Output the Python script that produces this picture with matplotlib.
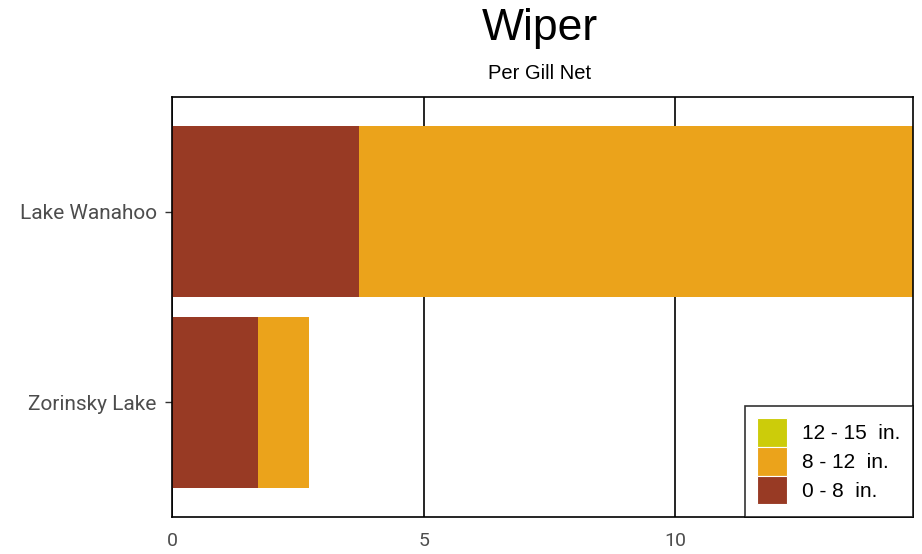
import matplotlib
matplotlib.use("Agg")
import matplotlib.pyplot as plt
from matplotlib.patches import Patch

lakes = ["Zorinsky Lake", "Lake Wanahoo"]
size_classes = ["0 - 8  in.", "8 - 12  in.", "12 - 15  in."]
vals_0_8 = [1.70, 3.72]
vals_8_12 = [1.02, 11.0]
vals_12_15 = [0.0, 0.0]
colors = ["#983A24", "#EBA31B", "#CCCC0A"]

fig = plt.figure(figsize=(9.22, 5.54), dpi=100)
ax = fig.add_axes([0.1866, 0.0668, 0.8034, 0.758])

ypos = list(range(1, len(lakes) + 1))
left = [0.0] * len(lakes)
for vals, c in zip([vals_0_8, vals_8_12, vals_12_15], colors):
    ax.barh(ypos, vals, left=left, height=0.9, color=c, zorder=2)
    left = [l + v for l, v in zip(left, vals)]

ax.set_xlim(0, max(left))
ax.set_ylim(0.4, 2.6)
ax.set_xticks([0, 5, 10])
ax.set_yticks(ypos)
ax.set_yticklabels(lakes)
ax.grid(axis="x", color="black", linewidth=1.2, zorder=1)
for s in ax.spines.values():
    s.set_color("black")
    s.set_linewidth(1.2)
ax.tick_params(axis="x", length=0, pad=11, labelsize=14, labelcolor="#4d4d4d")
ax.tick_params(axis="y", length=5, width=1, color="#333333", pad=6, labelsize=15, labelcolor="#4d4d4d")
for t in ax.get_xticklabels() + ax.get_yticklabels():
    t.set_fontfamily("Roboto")

handles = [Patch(facecolor=c, edgecolor="white", linewidth=0.8) for c in colors]
leg = ax.legend(handles[::-1], size_classes[::-1], loc="lower right",
                bbox_to_anchor=(1.0, 0.0), frameon=True, fancybox=False,
                edgecolor="black", prop={"family": "Liberation Sans", "size": 15},
                handlelength=1.45, handleheight=1.75, handletextpad=0.7,
                labelspacing=0.0, borderpad=0.6, borderaxespad=0.0)
leg.get_frame().set_linewidth(1.2)

fig.text(0.585, 0.948, "Wiper", ha="center", va="center", fontsize=32, family="Liberation Sans")
fig.text(0.585, 0.868, "Per Gill Net", ha="center", va="center", fontsize=14.5, family="Liberation Sans")

fig.savefig("out.png", dpi=100)
